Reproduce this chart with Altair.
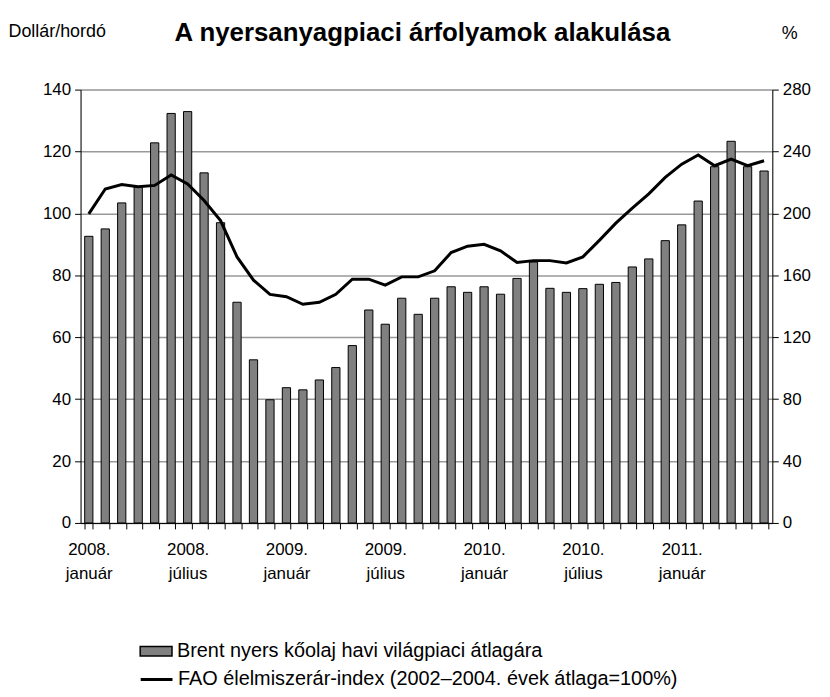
import altair as alt
import pandas as pd

month_names = ["január", "február", "március", "április", "május", "június",
               "július", "augusztus", "szeptember", "október", "november", "december"]
years = [2008, 2009, 2010, 2011]
months = [f"{y}. {m}" for y in years for m in month_names][:42]

brent = [92.6, 95.0, 103.4, 108.6, 122.8, 132.3, 132.9, 113.1, 97.0, 71.3, 52.7, 39.8,
         43.7, 43.0, 46.2, 50.2, 57.3, 68.8, 64.2, 72.6, 67.4, 72.6, 76.3, 74.5,
         76.3, 73.9, 79.0, 84.3, 75.8, 74.5, 75.7, 77.1, 77.7, 82.7, 85.3, 91.2,
         96.3, 104.0, 115.1, 123.3, 115.1, 113.7]
fao = [199.7, 215.8, 218.6, 217.3, 218.1, 224.8, 219.0, 208.3, 195.4, 171.9, 156.9, 147.7,
       146.2, 141.3, 142.6, 147.7, 157.5, 157.5, 153.7, 159.0, 159.0, 162.9, 174.7, 178.8,
       180.0, 175.8, 168.3, 169.5, 169.5, 168.0, 171.9, 182.6, 193.7, 203.4, 212.6, 223.3,
       231.8, 237.8, 230.8, 235.1, 230.8, 234.0]
shown_labels = ["2008. január", "2008. július", "2009. január", "2009. július",
                "2010. január", "2010. július", "2011. január"]

brent_name = "Brent nyers kőolaj havi világpiaci átlagára"
fao_name = "FAO élelmiszerár-index (2002–2004. évek átlaga=100%)"

df = pd.DataFrame({"month": months, "brent": brent, "fao": fao,
                   "s1": brent_name, "s2": fao_name})

FONT = "Liberation Sans"
shown_js = "[" + ",".join(f"'{s}'" for s in shown_labels) + "]"

x = alt.X("month:N", sort=months, title=None,
          scale=alt.Scale(paddingInner=0.5, paddingOuter=0.25),
          axis=alt.Axis(labelExpr=f"indexof({shown_js}, datum.value) >= 0 ? split(datum.value, ' ') : ''",
                        labelAngle=0, tickBand="extent", tickSize=6, tickColor="black",
                        domainColor="black", labelFontSize=17, labelFont=FONT,
                        labelColor="black", labelPadding=13, labelLineHeight=24,
                        labelOverlap=False, grid=False))

bars = alt.Chart(df).mark_bar(stroke="black", strokeWidth=1).encode(
    x=x,
    y=alt.Y("brent:Q", scale=alt.Scale(domain=[0, 140], nice=False),
            axis=alt.Axis(values=list(range(0, 141, 20)), title="Dollár/hordó",
                          titleAngle=0, titleAlign="left", titleBaseline="middle",
                          titleX=-73, titleY=-58, titleFont=FONT, titleFontSize=18,
                          titleFontWeight="normal", titleColor="black",
                          labelFontSize=17, labelFont=FONT, labelColor="black",
                          tickColor="black", tickSize=6, domainColor="black",
                          grid=True, gridColor="#999999", gridWidth=1.5, labelPadding=4)),
    fill=alt.Fill("s1:N", scale=alt.Scale(domain=[brent_name], range=["#808080"]),
                  legend=alt.Legend(title=None, orient="none", legendX=59, legendY=548,
                                    symbolType="M-1,-0.3H1V0.3H-1Z", symbolSize=1024,
                                    symbolStrokeColor="black", symbolStrokeWidth=1.5,
                                    labelFontSize=20, labelFont=FONT, labelColor="black",
                                    labelLimit=700, labelOffset=4)),
)

line = alt.Chart(df).mark_line(color="black", strokeWidth=3).encode(
    x=x,
    y=alt.Y("fao:Q", scale=alt.Scale(domain=[0, 280], nice=False),
            axis=alt.Axis(orient="right", values=list(range(0, 281, 40)), title="%",
                          titleAngle=0, titleAlign="center", titleBaseline="middle",
                          titleX=17, titleY=-56, titleFont=FONT, titleFontSize=18,
                          titleFontWeight="normal", titleColor="black",
                          labelFontSize=17, labelFont=FONT, labelColor="black",
                          tickColor="black", tickSize=6, domainColor="black",
                          grid=False, labelPadding=4)),
    stroke=alt.Stroke("s2:N", scale=alt.Scale(domain=[fao_name], range=["black"]),
                      legend=alt.Legend(title=None, orient="none", legendX=59, legendY=576,
                                        symbolType="stroke", symbolSize=1024,
                                        symbolStrokeWidth=3,
                                        labelFontSize=20, labelFont=FONT, labelColor="black",
                                        labelLimit=700, labelOffset=4)),
)

chart = alt.layer(bars, line).resolve_scale(y="independent", fill="independent",
                                            stroke="independent").properties(
    width=696, height=436,
    autosize=alt.AutoSizeParams(type="none"),
    padding={"left": 73, "top": 80, "right": 50, "bottom": 170},
    title=alt.TitleParams("A nyersanyagpiaci árfolyamok alakulása", anchor="middle",
                          font=FONT, fontSize=26, fontWeight="bold", color="black",
                          offset=-23, dx=-4),
).configure_view(stroke="black", strokeWidth=1).configure(background="white")

chart.save("out.html", embed_options={"renderer": "svg", "actions": False})
